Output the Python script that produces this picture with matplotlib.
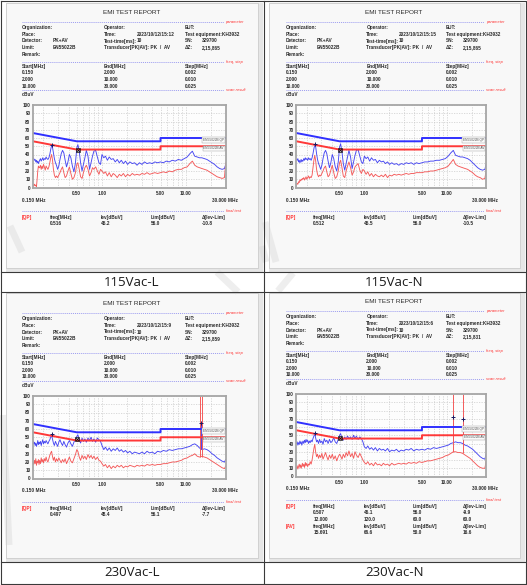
import matplotlib
matplotlib.use('Agg')
import matplotlib.pyplot as plt
from matplotlib.patches import Rectangle
from matplotlib.ticker import NullFormatter

plt.rcParams['font.family'] = ['Liberation Sans', 'DejaVu Sans']

W, H = 527, 585

# ---- data (MHz / dBuV) ----
freq = [0.150, 0.153, 0.156, 0.159, 0.162, 0.165, 0.168, 0.171, 0.174, 0.177,
        0.180, 0.184, 0.188, 0.192, 0.196, 0.200, 0.205, 0.210, 0.215, 0.220,
        0.226, 0.232, 0.238, 0.244, 0.250, 0.256, 0.263, 0.270, 0.278, 0.286,
        0.295, 0.305, 0.315, 0.326, 0.338, 0.350, 0.363, 0.377, 0.392, 0.408,
        0.425, 0.443, 0.462, 0.482, 0.500, 0.515, 0.535, 0.555, 0.578, 0.600,
        0.625, 0.650, 0.680, 0.710, 0.740, 0.770, 0.800, 0.840, 0.880, 0.920,
        0.960, 1.00, 1.05, 1.10, 1.16, 1.22, 1.29, 1.36, 1.44, 1.52,
        1.61, 1.70, 1.80, 1.91, 2.02, 2.15, 2.30, 2.45, 2.62, 2.80,
        3.00, 3.22, 3.45, 3.70, 3.98, 4.28, 4.60, 5.00, 5.40, 5.85,
        6.35, 6.90, 7.50, 8.15, 8.85, 9.60, 10.4, 11.2, 12.0, 12.8,
        13.7, 14.6, 15.6, 16.7, 17.9, 19.2, 20.6, 22.1, 23.7, 25.4,
        27.2, 29.0, 30.0]

tl_pk = [36, 35, 33, 34, 31, 33, 30, 32, 29, 31,
         33, 35, 32, 34, 36, 33, 35, 34, 37, 35,
         34, 36, 40, 46, 51, 49, 42, 35, 30, 27,
         22, 26, 34, 41, 45, 42, 33, 25, 31, 40,
         36, 26, 19, 30, 48, 52, 44, 30, 20, 28,
         36, 45, 38, 22, 30, 38, 44, 45, 37, 30,
         28, 40, 36, 38, 33, 37, 34, 35, 31, 34,
         30, 33, 29, 32, 28, 31, 29, 30, 27, 30,
         28, 31, 29, 30, 29, 31, 30, 31, 30, 32,
         31, 33, 32, 34, 33, 35, 37, 41, 44, 38,
         37, 36, 36, 35, 34, 32, 30, 28, 25, 23,
         22, 23, 28]
tl_av = [3, 2, 4, 2, 3, 1, 10, 20, 26, 24,
         24, 27, 22, 26, 23, 28, 25, 21, 26, 24,
         22, 25, 30, 36, 40, 34, 22, 15, 12, 14,
         12, 15, 18, 22, 25, 18, 12, 14, 20, 25,
         17, 10, 12, 18, 28, 30, 22, 13, 11, 18,
         24, 27, 22, 14, 18, 24, 22, 25, 20, 16,
         22, 20, 17, 19, 14, 18, 13, 17, 15, 12,
         16, 14, 17, 13, 16, 14, 17, 15, 16, 15,
         17, 16, 18, 16, 17, 18, 17, 18, 19, 18,
         20, 19, 21, 22, 22, 24, 25, 29, 32, 27,
         25, 24, 23, 22, 21, 19, 17, 15, 13, 12,
         11, 12, 30]

tr_pk = [34, 33, 35, 31, 33, 30, 32, 34, 31, 33,
         32, 35, 33, 36, 34, 35, 33, 36, 34, 35,
         33, 36, 41, 47, 52, 50, 41, 34, 29, 26,
         22, 27, 35, 42, 45, 41, 32, 24, 30, 40,
         35, 25, 20, 31, 49, 53, 43, 29, 21, 29,
         37, 45, 37, 23, 31, 39, 45, 46, 38, 31,
         29, 38, 35, 37, 32, 36, 33, 34, 30, 33,
         31, 32, 29, 31, 28, 30, 28, 29, 27, 29,
         28, 30, 29, 30, 28, 30, 29, 30, 31, 31,
         32, 32, 33, 33, 34, 35, 38, 42, 45, 39,
         38, 37, 37, 36, 35, 33, 30, 27, 24, 22,
         21, 22, 28]
tr_av = [3, 5, 4, 7, 6, 9, 8, 10, 9, 11,
         10, 12, 9, 11, 13, 10, 12, 14, 11, 13,
         12, 15, 24, 33, 39, 33, 22, 16, 13, 15,
         14, 17, 20, 24, 26, 19, 13, 15, 21, 27,
         18, 11, 13, 20, 30, 33, 24, 14, 12, 20,
         26, 31, 24, 15, 19, 25, 27, 29, 21, 17,
         22, 20, 16, 19, 14, 17, 13, 16, 14, 13,
         15, 13, 16, 12, 15, 14, 16, 15, 16, 15,
         16, 17, 16, 17, 17, 18, 18, 18, 19, 19,
         20, 20, 21, 22, 23, 24, 26, 30, 34, 28,
         26, 25, 24, 23, 22, 20, 18, 15, 13, 12,
         10, 11, 20]

bl_pk = [45, 42, 44, 40, 43, 39, 42, 46, 41, 44,
         42, 45, 40, 44, 47, 42, 45, 43, 46, 44,
         42, 45, 47, 50, 53, 48, 43, 40, 45, 42,
         39, 44, 47, 43, 40, 45, 41, 38, 43, 46,
         42, 39, 44, 48, 51, 53, 47, 43, 49, 45,
         48, 44, 49, 46, 50, 45, 48, 44, 49, 47,
         45, 40, 35, 38, 34, 37, 33, 36, 34, 37,
         33, 35, 32, 34, 31, 33, 30, 32, 31, 30,
         32, 30, 33, 31, 32, 30, 33, 32, 34, 33,
         35, 34, 35, 36, 36, 37, 38, 39, 41, 42,
         40, 37, 35, 36, 35, 33, 30, 28, 25, 23,
         21, 20, 23]
bl_av = [20, 17, 22, 18, 24, 16, 21, 19, 23, 17,
         22, 18, 25, 20, 23, 19, 24, 21, 26, 22,
         20, 24, 28, 31, 33, 27, 22, 26, 20, 24,
         21, 25, 22, 19, 23, 20, 24, 18, 22, 26,
         21, 19, 24, 29, 35, 33, 26, 22, 28, 24,
         27, 23, 29, 25, 28, 24, 27, 23, 26, 22,
         21, 18, 15, 17, 13, 16, 12, 15, 13, 16,
         14, 16, 13, 15, 14, 16, 15, 14, 16, 15,
         16, 15, 17, 16, 17, 16, 17, 17, 18, 18,
         19, 20, 20, 21, 22, 24, 25, 27, 28, 30,
         27, 26, 27, 26, 25, 23, 21, 19, 17, 15,
         13, 12, 15]

br_pk = [40, 42, 38, 41, 39, 43, 40, 42, 38, 41,
         43, 40, 44, 41, 45, 42, 44, 40, 43, 41,
         44, 42, 46, 49, 52, 47, 42, 44, 40, 45,
         41, 43, 39, 46, 42, 44, 40, 45, 41, 43,
         47, 42, 40, 45, 50, 52, 46, 44, 48, 45,
         49, 46, 48, 45, 50, 46, 49, 45, 48, 46,
         42, 36, 34, 37, 33, 35, 32, 35, 31, 34,
         32, 33, 31, 34, 30, 32, 31, 33, 30, 32,
         31, 33, 32, 34, 31, 33, 32, 33, 32, 34,
         33, 35, 34, 35, 36, 37, 38, 40, 41, 42,
         41, 41, 40, 38, 37, 35, 33, 30, 27, 24,
         22, 21, 27]
br_av = [10, 13, 9, 12, 15, 11, 14, 10, 13, 16,
         12, 15, 11, 17, 13, 16, 12, 15, 14, 18,
         15, 20, 27, 34, 39, 30, 24, 27, 22, 26,
         23, 28, 21, 25, 29, 24, 20, 26, 22, 27,
         21, 25, 19, 24, 27, 25, 21, 27, 23, 29,
         25, 31, 24, 28, 22, 30, 26, 23, 28, 24,
         20, 17, 15, 18, 14, 16, 13, 17, 14, 15,
         13, 16, 14, 15, 13, 16, 14, 15, 16, 15,
         16, 15, 17, 16, 17, 16, 18, 17, 18, 19,
         19, 20, 21, 22, 23, 25, 26, 28, 30, 30,
         29, 29, 28, 26, 24, 22, 19, 16, 13, 11,
         10, 10, 18]

# narrow spikes (vertical strokes) in the 230V scans
bl_pk_spike_f = [15.2]
bl_pk_spike_lo = [36]
bl_pk_spike_hi = [67]
bl_av_spike_f = [14.8, 15.8]
bl_av_spike_lo = [26, 26]
bl_av_spike_hi = [100, 100]
br_pk_spike_f = [12.0, 15.69]
br_pk_spike_lo = [42, 40]
br_pk_spike_hi = [72, 70]
br_av_spike_f = [12.0, 15.69]
br_av_spike_lo = [30, 29]
br_av_spike_hi = [100, 100]

# EN55022B limits
lim_f = [0.15, 0.5, 5.0, 5.0, 30.0]
qp_lim = [66, 56, 56, 60, 60]
av_lim = [56, 46, 46, 50, 50]

# markers: final QP point, peak markers
tl_qp_mark = ([0.516], [45.2])
tr_qp_mark = ([0.512], [45.5])
bl_qp_mark = ([0.497], [48.4])
br_qp_mark = ([0.507], [46.1])
tl_pk_mark = ([0.25], [52])
tr_pk_mark = ([0.25], [53])
bl_pk_mark = ([0.25, 15.2], [54, 67])
br_pk_mark = ([0.25, 12.0, 15.69], [53, 72, 70])

grid_f = [0.2, 0.3, 0.4, 0.5, 0.6, 0.7, 0.8, 0.9, 1, 2, 3, 4, 5, 6, 7, 8, 9,
          10, 20, 30]
xtick_f = [0.5, 1, 5, 10]
xtick_lab = ['0.50', '1.00', '5.00', '10.00']

captions = ['115Vac-L', '115Vac-N', '230Vac-L', '230Vac-N']
times = ['2023/10/12/15:12', '2023/10/12/15:15', '2023/10/12/15:9',
         '2023/10/12/15:6']
dz = ['2,15,865', '2,15,865', '2,15,859', '2,15,831']
start_mhz = ['0.150', '2.000', '10.000']
end_mhz = ['2.000', '10.000', '30.000']
step_mhz = ['0.002', '0.010', '0.025']

tl_final = [('[QP]', [['0.516', '45.2', '56.0', '-10.8']])]
tr_final = [('[QP]', [['0.512', '45.5', '56.0', '-10.5']])]
bl_final = [('[QP]', [['0.497', '48.4', '56.1', '-7.7']])]
br_final = [('[QP]', [['0.507', '46.1', '56.0', '-9.9'],
                      ['12.000', '120.0', '60.0', '60.0']]),
            ('[AV]', [['15.691', '66.6', '50.0', '16.6']])]

# ---- layout (pixel units) ----
panels = [(0, 0, 1.0), (264, 0, 0.984), (0, 291, 1.0), (264, 289, 0.984)]
shots = [(6, 3, 257, 269), (269, 3, 256, 269), (6, 293, 257, 269),
         (269, 293, 256, 269)]
cap_pos = [(132, 282), (394, 282), (132, 573), (395, 573)]

TXT = '#2b2b2b'
RED = '#ff2f2f'
DOT = '#9c9cf0'
SM = 3.4


def place(panel, x, y):
    ox, oy, sx = panel
    return ox + sx * x, oy + y


def label(ax0, panel, x, y, s, **kw):
    px, py = place(panel, x, y)
    opts = dict(fontsize=SM, fontweight='bold', color=TXT, va='center',
                ha='left')
    opts.update(kw)
    ax0.text(px, py, s, **opts)


def rule(ax0, panel, y, tag):
    x1, yy = place(panel, 22, y)
    x2, _ = place(panel, 224, y)
    ax0.plot([x1, x2], [yy, yy], color=DOT, lw=0.7, ls=(0, (1, 1)))
    ax0.text(x2 + 1.5, yy, tag, fontsize=2.9, color=RED, style='italic',
             va='center', ha='left')


def draw_chart(ax, pk, av, qp_mark, pk_mark, spikes):
    ax.set_facecolor('#fdfdfd')
    ax.set_xscale('log')
    ax.set_xlim(0.15, 30)
    ax.set_ylim(0, 100)
    ax.set_xticks(grid_f, minor=True)
    ax.set_xticks(xtick_f, xtick_lab)
    ax.xaxis.set_minor_formatter(NullFormatter())
    ax.set_yticks(range(0, 101, 10))
    ax.tick_params(which='both', length=0, labelsize=3.3, colors=TXT)
    ax.tick_params(axis='y', pad=1.8)
    ax.tick_params(axis='x', pad=2.4)
    for lab in ax.get_xticklabels() + ax.get_yticklabels():
        lab.set_fontweight('bold')
    ax.grid(which='both', color='#c6c6c6', ls=(0, (2, 2)), lw=0.45)
    for s in ax.spines.values():
        s.set_color('#a6a6a6')
        s.set_linewidth(1.3)
    ax.plot(freq, pk, color='#4646f2', lw=0.65)
    ax.plot(freq, av, color='#f45a5a', lw=0.65)
    for f, lo, hi, c in spikes:
        ax.vlines(f, lo, hi, colors=c, lw=0.7)
    ax.plot(lim_f, qp_lim, color='#3030ff', lw=1.4)
    ax.plot(lim_f, av_lim, color='#ff3838', lw=1.4)
    box = dict(boxstyle='square,pad=0.25', fc='#fafafa', ec='#9a9a9a', lw=0.3)
    ax.text(28.5, 57.3, 'EN55022B QP', fontsize=2.3, color='#555555',
            ha='right', va='center', bbox=box)
    ax.text(28.5, 47.3, 'EN55022B AV', fontsize=2.3, color='#555555',
            ha='right', va='center', bbox=box)
    ax.plot(pk_mark[0], pk_mark[1], ls='none', marker='+', ms=2.5,
            mew=0.7, color='#1a1a60')
    ax.plot(qp_mark[0], qp_mark[1], ls='none', marker='s', ms=3,
            mfc='none', mec='#111111', mew=0.5)
    ax.plot(qp_mark[0], qp_mark[1], ls='none', marker='x', ms=2,
            mew=0.6, color='#111111')


fig = plt.figure(figsize=(W / 100, H / 100), dpi=100)
ax0 = fig.add_axes([0, 0, 1, 1])
ax0.set_xlim(0, W)
ax0.set_ylim(H, 0)
ax0.axis('off')

# screenshot frames
for x, y, w, h in shots:
    ax0.add_patch(Rectangle((x, y), w, h, fc='#e6e6e6', ec='none'))
    ax0.add_patch(Rectangle((x, y), w - 5, h - 4, fc='#f8f8f8',
                            ec='#c4c4c4', lw=0.5))

# faint watermark strokes
wm = [((217, 272), (238, 292)), ((293, 273), (278, 291)),
      ((262, 246), (266, 262)), ((265, 222), (276, 262)),
      ((3, 415), (9, 545)), ((10, 226), (22, 252))]
for (x1, y1), (x2, y2) in wm:
    ax0.plot([x1, x2], [y1, y2], color='#d6d6d6', lw=5, alpha=0.4,
             solid_capstyle='butt')

# table lines
tcol = '#3a3a3a'
ax0.plot([1, 526, 526, 1, 1], [1, 1, 583.5, 583.5, 1], color=tcol, lw=0.8)
ax0.plot([263.5, 263.5], [1, 583.5], color=tcol, lw=0.8)
for y in [272, 292, 562]:
    ax0.plot([1, 526], [y, y], color=tcol, lw=0.8)

for (cx, cy), cap in zip(cap_pos, captions):
    ax0.text(cx, cy, cap, fontsize=9.5, color='#1a1a1a', ha='center',
             va='center', family=['Open Sans', 'DejaVu Sans'])

traces = [(tl_pk, tl_av), (tr_pk, tr_av), (bl_pk, bl_av), (br_pk, br_av)]
qp_marks = [tl_qp_mark, tr_qp_mark, bl_qp_mark, br_qp_mark]
pk_marks = [tl_pk_mark, tr_pk_mark, bl_pk_mark, br_pk_mark]
finals = [tl_final, tr_final, bl_final, br_final]
spike_sets = [
    [],
    [],
    [(bl_pk_spike_f, bl_pk_spike_lo, bl_pk_spike_hi, '#4646f2'),
     (bl_av_spike_f, bl_av_spike_lo, bl_av_spike_hi, '#f45a5a')],
    [(br_pk_spike_f, br_pk_spike_lo, br_pk_spike_hi, '#4646f2'),
     (br_av_spike_f, br_av_spike_lo, br_av_spike_hi, '#f45a5a')],
]

for i, panel in enumerate(panels):
    label(ax0, panel, 132, 12.5, 'EMI TEST REPORT', fontsize=4.6,
          fontweight='normal', ha='center')
    rule(ax0, panel, 22, 'parameter')
    rows = [
        (27.5, [(22, 'Organization:'), (104, 'Operator:'), (185, 'EUT:')]),
        (34.3, [(22, 'Place:'), (104, 'Time:'), (137, times[i]),
                (185, 'Test equipment:KH3932')]),
        (41, [(22, 'Detector:'), (53, 'PK+AV'), (104, 'Test-time[ms]:'),
              (137, '10'), (185, 'SN:'), (202, '329700')]),
        (47.5, [(22, 'Limit:'), (53, 'EN55022B'),
                (104, 'Transducer[PK|AV]: PK  /  AV'), (185, 'ΔZ:'),
                (202, dz[i])]),
        (54.2, [(22, 'Remark:')]),
    ]
    for y, items in rows:
        for x, s in items:
            label(ax0, panel, x, y, s)

    rule(ax0, panel, 62, 'freq, step')
    label(ax0, panel, 22, 66.5, 'Start[MHz]')
    label(ax0, panel, 104, 66.5, 'End[MHz]')
    label(ax0, panel, 185, 66.5, 'Step[MHz]')
    for k, y in enumerate([72.8, 79.3, 86]):
        label(ax0, panel, 22, y, start_mhz[k])
        label(ax0, panel, 104, y, end_mhz[k])
        label(ax0, panel, 185, y, step_mhz[k])
    rule(ax0, panel, 90.3, 'scan result')
    label(ax0, panel, 22, 94.5, 'dBuV')

    l, t = place(panel, 33, 105)
    r, b = place(panel, 225.7, 187.5)
    ax = fig.add_axes([l / W, 1 - b / H, (r - l) / W, (b - t) / H])
    pk, av = traces[i]
    draw_chart(ax, pk, av, qp_marks[i], pk_marks[i], spike_sets[i])

    label(ax0, panel, 22, 200, '0.150 MHz')
    label(ax0, panel, 238, 200, '30.000 MHz', ha='right')
    rule(ax0, panel, 211, 'final test')

    y = 217.3
    for tag, vals in finals[i]:
        label(ax0, panel, 22, y, tag, color=RED)
        for x, s in zip([50, 101, 151, 202],
                        ['freq[MHz]', 'lev[dBuV]', 'Lim[dBuV]', 'Δ[lev-Lim]']):
            label(ax0, panel, x, y, s)
        y += 6.6
        for row in vals:
            for x, s in zip([50, 101, 151, 202], row):
                label(ax0, panel, x, y, s)
            y += 6.6

fig.savefig('out.png', dpi=100)
